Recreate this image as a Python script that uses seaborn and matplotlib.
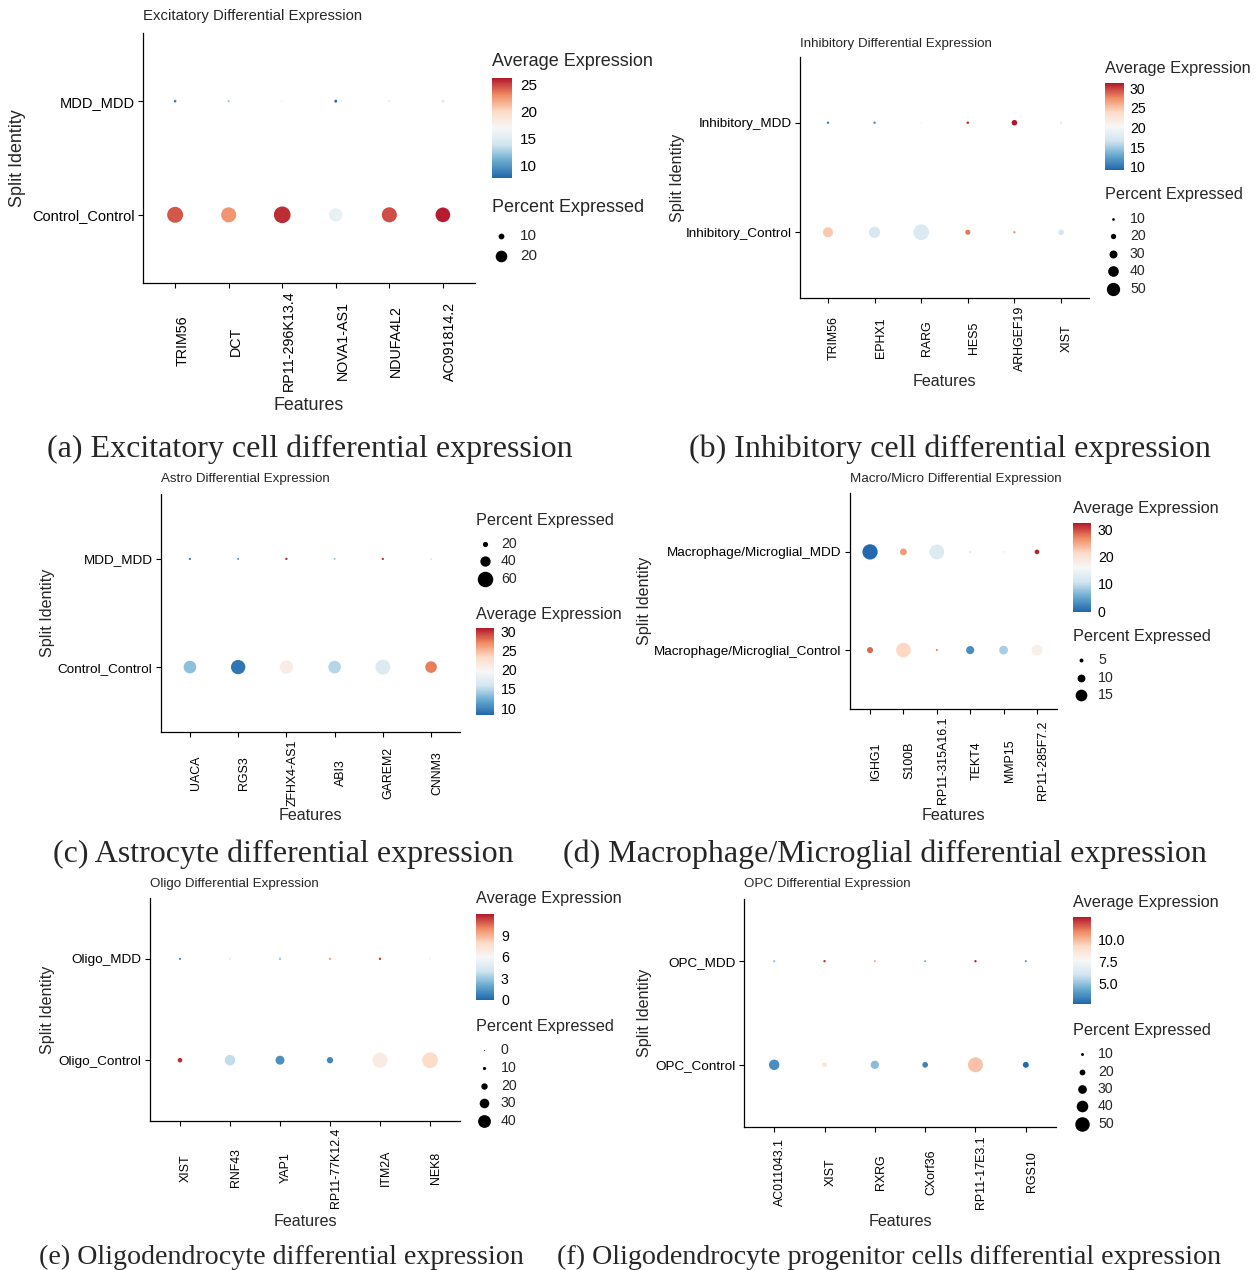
import numpy as np
import pandas as pd
import matplotlib
matplotlib.use("Agg")
import matplotlib.pyplot as plt
import seaborn as sns
from matplotlib.colors import LinearSegmentedColormap, Normalize
from matplotlib.cm import ScalarMappable

# ---------------------------------------------------------------
# values
# ---------------------------------------------------------------
genes_a = ["TRIM56", "DCT", "RP11-296K13.4", "NOVA1-AS1", "NDUFA4L2", "AC091814.2"]
groups_a = ["Control_Control", "MDD_MDD"]
pct_ctrl_a = [27.5, 26.0, 28.8, 23.0, 26.0, 25.3]
pct_mdd_a = [4.5, 4.0, 3.5, 5.0, 3.5, 4.0]
avg_ctrl_a = [24.5, 22.7, 25.7, 15.8, 24.8, 26.1]
avg_mdd_a = [8.6, 12.6, 17.3, 7.6, 18.8, 20.3]
lim_a = (7.6, 26.3)
cticks_a = [10, 15, 20, 25]
pbreaks_a = [10, 20]

genes_b = ["TRIM56", "EPHX1", "RARG", "HES5", "ARHGEF19", "XIST"]
groups_b = ["Inhibitory_Control", "Inhibitory_MDD"]
pct_ctrl_b = [37.6, 42.5, 59.0, 19.0, 9.0, 21.0]
pct_mdd_b = [9.0, 9.0, 7.0, 10.0, 21.0, 8.0]
avg_ctrl_b = [24.8, 17.3, 17.5, 28.2, 26.9, 17.0]
avg_mdd_b = [10.3, 11.4, 20.3, 30.2, 31.3, 23.8]
lim_b = (9.2, 31.3)
cticks_b = [10, 15, 20, 25, 30]
pbreaks_b = [10, 20, 30, 40, 50]

genes_c = ["UACA", "RGS3", "ZFHX4-AS1", "ABI3", "GAREM2", "CNNM3"]
groups_c = ["Control_Control", "MDD_MDD"]
pct_ctrl_c = [49.0, 55.5, 51.7, 49.0, 58.0, 45.0]
pct_mdd_c = [9.0, 8.0, 9.0, 8.0, 9.0, 8.0]
avg_ctrl_c = [13.4, 9.1, 21.0, 14.8, 16.8, 27.4]
avg_mdd_c = [10.0, 10.9, 30.2, 14.0, 29.8, 16.8]
lim_c = (8.2, 30.8)
cticks_c = [10, 15, 20, 25, 30]
pbreaks_c = [20, 40, 60]

genes_d = ["IGHG1", "S100B", "RP11-315A16.1", "TEKT4", "MMP15", "RP11-285F7.2"]
groups_d = ["Macrophage/Microglial_Control", "Macrophage/Microglial_MDD"]
pct_ctrl_d = [7.8, 18.8, 2.6, 10.4, 11.3, 13.9]
pct_mdd_d = [19.6, 8.7, 19.0, 3.0, 2.5, 6.0]
avg_ctrl_d = [28.3, 21.5, 28.0, 3.0, 8.5, 17.6]
avg_mdd_d = [0.0, 25.7, 12.1, 13.0, 18.5, 31.6]
lim_d = (-0.3, 32.2)
cticks_d = [0, 10, 20, 30]
pbreaks_d = [5, 10, 15]

genes_e = ["XIST", "RNF43", "YAP1", "RP11-77K12.4", "ITM2A", "NEK8"]
groups_e = ["Oligo_Control", "Oligo_MDD"]
pct_ctrl_e = [14.5, 33.0, 28.0, 19.8, 47.8, 49.0]
pct_mdd_e = [7.0, 6.0, 7.0, 7.0, 8.0, 6.0]
avg_ctrl_e = [11.6, 3.7, 1.2, 0.9, 6.8, 7.9]
avg_mdd_e = [1.0, 4.5, 2.8, 9.5, 11.2, 6.2]
lim_e = (-0.05, 12.0)
cticks_e = [0, 3, 6, 9]
pbreaks_e = [0, 10, 20, 30, 40]

genes_f = ["AC011043.1", "XIST", "RXRG", "CXorf36", "RP11-17E3.1", "RGS10"]
groups_f = ["OPC_Control", "OPC_MDD"]
pct_ctrl_f = [36.0, 16.0, 28.5, 19.5, 51.7, 20.5]
pct_mdd_f = [8.0, 8.0, 7.0, 7.0, 8.0, 7.0]
avg_ctrl_f = [3.7, 8.8, 4.9, 3.4, 9.8, 2.8]
avg_mdd_f = [5.2, 12.3, 10.4, 4.5, 12.5, 3.6]
lim_f = (2.7, 12.6)
cticks_f = [5.0, 7.5, 10.0]
pbreaks_f = [10, 20, 30, 40, 50]

titles = ["Excitatory Differential Expression", "Inhibitory Differential Expression",
          "Astro Differential Expression", "Macro/Micro Differential Expression",
          "Oligo Differential Expression", "OPC Differential Expression"]
captions = ["(a) Excitatory cell differential expression",
            "(b) Inhibitory cell differential expression",
            "(c) Astrocyte differential expression",
            "(d) Macrophage/Microglial differential expression",
            "(e) Oligodendrocyte differential expression",
            "(f) Oligodendrocyte progenitor cells differential expression"]

# ---------------------------------------------------------------
# layout (pixels in a 1259 x 1270 canvas)
# ---------------------------------------------------------------
W, H = 1259, 1270
RDBU = ["#2166AC", "#67A9CF", "#D1E5F0", "#F7F7F7", "#FDDBC7", "#EF8A62", "#B2182B"]
CMAP = LinearSegmentedColormap.from_list("rdbu7", RDBU)

big = dict(title=10.7, ytick=10.5, xtick=10.3, axlab=12.9, legt=13.0, legl=11.0)
small = dict(title=9.65, ytick=9.7, xtick=8.9, axlab=11.6, legt=11.7, legl=10.2)

LAYOUT = [
    dict(axes=(143, 33, 475, 283), title_y=16, xlab_y=406, ylab_x=18, xt_off=58, k=0.58,
         avg_t=(492, 61), cbar=(492, 78, 512, 178), pct_t=(492, 208), key_x=501,
         key_y=[236, 256], lab_x=520, cap=(310, 457, 23), fs=big),
    dict(axes=(800, 57, 1089, 298), title_y=44, xlab_y=381, ylab_x=678, xt_off=40, k=0.266,
         avg_t=(1105, 68), cbar=(1105, 83, 1124, 170), pct_t=(1105, 195), key_x=1113,
         key_y=[219, 236, 254, 271, 289], lab_x=1130, cap=(950, 457, 23), fs=small),
    dict(axes=(161, 494, 460, 732), title_y=479, xlab_y=816, ylab_x=48, xt_off=41, k=0.258,
         avg_t=(476, 614), cbar=(476, 628, 494, 715), pct_t=(476, 520), key_x=485,
         key_y=[544, 561, 579], lab_x=501, cap=(283, 862, 23), fs=small),
    dict(axes=(850, 493, 1057, 709), title_y=479, xlab_y=816, ylab_x=645, xt_off=51.5, k=0.78,
         avg_t=(1073, 509), cbar=(1073, 523, 1091, 612), pct_t=(1073, 636), key_x=1081,
         key_y=[660, 678, 695], lab_x=1098, cap=(885, 862, 23), fs=small),
    dict(axes=(150, 898, 460, 1121), title_y=884, xlab_y=1221, ylab_x=48, xt_off=47, k=0.32,
         avg_t=(476, 899), cbar=(476, 914, 494, 1000), pct_t=(476, 1026), key_x=484,
         key_y=[1050, 1068, 1086, 1103, 1121], lab_x=501, cap=(281, 1264, 20.2), fs=small),
    dict(axes=(744, 899, 1056, 1127), title_y=884, xlab_y=1221, ylab_x=645, xt_off=45, k=0.29,
         avg_t=(1073, 903), cbar=(1073, 917, 1091, 1004), pct_t=(1073, 1030), key_x=1082,
         key_y=[1054, 1072, 1089, 1106, 1124], lab_x=1098, cap=(889, 1264, 20.2), fs=small),
]

DATA = [
    (genes_a, groups_a, pct_ctrl_a, pct_mdd_a, avg_ctrl_a, avg_mdd_a, lim_a, cticks_a, pbreaks_a),
    (genes_b, groups_b, pct_ctrl_b, pct_mdd_b, avg_ctrl_b, avg_mdd_b, lim_b, cticks_b, pbreaks_b),
    (genes_c, groups_c, pct_ctrl_c, pct_mdd_c, avg_ctrl_c, avg_mdd_c, lim_c, cticks_c, pbreaks_c),
    (genes_d, groups_d, pct_ctrl_d, pct_mdd_d, avg_ctrl_d, avg_mdd_d, lim_d, cticks_d, pbreaks_d),
    (genes_e, groups_e, pct_ctrl_e, pct_mdd_e, avg_ctrl_e, avg_mdd_e, lim_e, cticks_e, pbreaks_e),
    (genes_f, groups_f, pct_ctrl_f, pct_mdd_f, avg_ctrl_f, avg_mdd_f, lim_f, cticks_f, pbreaks_f),
]

sns.set_style("ticks")
plt.rcParams["font.family"] = ["Liberation Sans", "DejaVu Sans"]

fig = plt.figure(figsize=(W / 100, H / 100), dpi=100)

# overlay in pixel coordinates for all the free text and legend keys
ov = fig.add_axes([0, 0, 1, 1])
ov.set_xlim(0, W)
ov.set_ylim(H, 0)
ov.axis("off")


def box(l, t, r, b):
    return [l / W, 1 - b / H, (r - l) / W, (b - t) / H]


def diam_area(k, p):
    d = max(k * p, 1.0)
    return (0.72 * d) ** 2


for (genes, groups, pc, pm, ac, am, lim, cticks, pbreaks), lay, title, cap in zip(DATA, LAYOUT, titles, captions):
    fs = lay["fs"]
    n = len(genes)
    df = pd.DataFrame({
        "gene": genes + genes,
        "group": [groups[0]] * n + [groups[1]] * n,
        "pct": pc + pm,
        "avg": ac + am,
    })
    norm = Normalize(*lim)
    sizes = {v: diam_area(lay["k"], v) for v in df["pct"].unique()}

    l, t, r, b = lay["axes"]
    ax = fig.add_axes(box(l, t, r, b))
    sns.scatterplot(data=df, x="gene", y="group", hue="avg", size="pct",
                    palette=CMAP, hue_norm=norm, sizes=sizes, legend=False,
                    linewidth=0, ax=ax)
    ax.set_xlim(-0.6, n - 0.4)
    ax.set_ylim(-0.6, 1.6)
    ax.set_xlabel("")
    ax.set_ylabel("")
    sns.despine(ax=ax)
    for s in ["left", "bottom"]:
        ax.spines[s].set_linewidth(0.9)
        ax.spines[s].set_color("black")
    ax.set_xticks(range(n))
    ax.set_xticklabels(genes, rotation=90, va="center", ha="left")
    ax.set_yticks([0, 1])
    ax.set_yticklabels(groups)
    ax.tick_params(axis="both", direction="out", length=3.6, width=0.8,
                   color="black", labelcolor="black")
    ax.tick_params(axis="y", labelsize=fs["ytick"], pad=2.5)
    ax.tick_params(axis="x", labelsize=fs["xtick"], pad=lay["xt_off"] * 0.72 - 3.6)

    # titles and axis labels
    ov.text(l, lay["title_y"], title, fontsize=fs["title"], ha="left", va="center")
    ov.text((l + r) / 2, lay["xlab_y"], "Features", fontsize=fs["axlab"], ha="center", va="center")
    ov.text(lay["ylab_x"], (t + b) / 2, "Split Identity", fontsize=fs["axlab"],
            rotation=90, ha="center", va="center")

    # colour legend
    ov.text(*lay["avg_t"], "Average Expression", fontsize=fs["legt"], ha="left", va="center")
    cl, ct, cr, cbt = lay["cbar"]
    cax = fig.add_axes(box(cl, ct, cr, cbt))
    cb = fig.colorbar(ScalarMappable(norm=norm, cmap=CMAP), cax=cax, ticks=cticks)
    cb.outline.set_visible(False)
    if isinstance(cticks[0], float):
        cax.set_yticklabels([f"{v:.1f}" for v in cticks])
    cax.tick_params(axis="y", direction="in", length=3.5, width=0.8, color="white",
                    labelcolor="black", left=True, right=True, labelsize=fs["legl"],
                    pad=(lay["lab_x"] - cr) * 0.72)

    # size legend
    ov.text(*lay["pct_t"], "Percent Expressed", fontsize=fs["legt"], ha="left", va="center")
    for v, yk in zip(pbreaks, lay["key_y"]):
        ov.scatter([lay["key_x"]], [yk], s=diam_area(lay["k"], v), color="black", linewidth=0)
        ov.text(lay["lab_x"], yk, str(v), fontsize=fs["legl"], ha="left", va="center")

    cx, cy, cfs = lay["cap"]
    ov.text(cx, cy, cap, fontsize=cfs, ha="center", va="baseline",
            family=["Liberation Serif", "DejaVu Serif"])

fig.savefig("out.png", dpi=100)
